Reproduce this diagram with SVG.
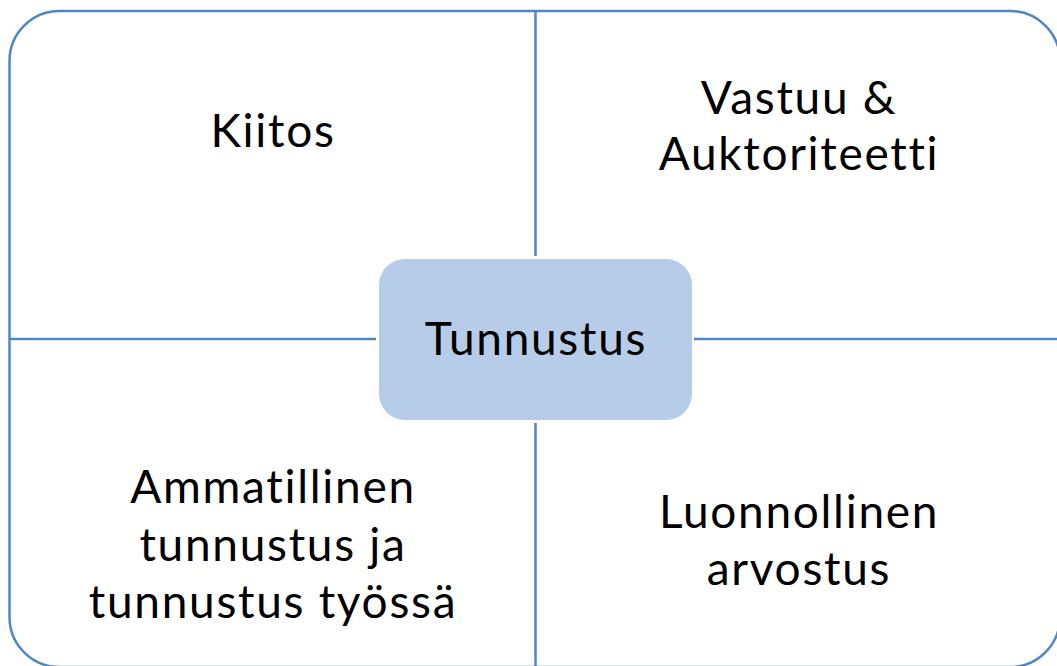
<svg xmlns="http://www.w3.org/2000/svg" width="1057" height="666" viewBox="0 0 1057 666">
<style>
.t{font-family:Lato,"Open Sans","Liberation Sans",sans-serif;font-size:46px;letter-spacing:1.7px;font-variant-ligatures:none;fill:#000;text-anchor:middle}
.ln{stroke:#4F86C6;stroke-width:2.5;fill:none}
</style>
<rect width="1057" height="666" fill="#fff"/>
<g id="frame"><rect x="9.5" y="11" width="1050.5" height="656" rx="50" ry="50" class="ln"/></g>
<g id="connectors">
<line x1="535.5" y1="11" x2="535.5" y2="256" class="ln"/>
<line x1="535.5" y1="423" x2="535.5" y2="667" class="ln"/>
<line x1="9.5" y1="339" x2="376" y2="339" class="ln"/>
<line x1="694" y1="339" x2="1060" y2="339" class="ln"/>
</g>
<g id="center"><rect x="379" y="259" width="313" height="161" rx="26" ry="26" fill="#B7CCE8"/>
<text class="t" x="536" y="355">Tunnustus</text></g>
<g id="q1"><text class="t" x="273" y="147">Kiitos</text></g>
<g id="q2"><text class="t" x="799" y="114">Vastuu &amp;</text><text class="t" x="799" y="170">Auktoriteetti</text></g>
<g id="q3"><text class="t" x="273" y="503">Ammatillinen</text><text class="t" x="273" y="561">tunnustus ja</text><text class="t" x="273" y="618">tunnustus työssä</text></g>
<g id="q4"><text class="t" x="799" y="528">Luonnollinen</text><text class="t" x="799" y="585">arvostus</text></g>
</svg>
